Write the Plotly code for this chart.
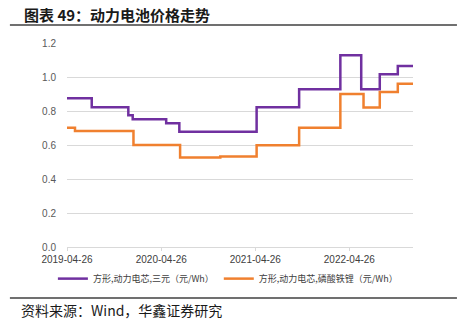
import plotly.graph_objects as go

# Ternary (三元) cell price, change dates and values (元/Wh)
ncm_dates = ["2019-04-26", "2019-07-31", "2019-12-20", "2020-01-06", "2020-05-15",
             "2020-07-05", "2021-05-01", "2021-10-13", "2022-03-22", "2022-06-11",
             "2022-08-22", "2022-10-31", "2022-12-29"]
ncm_values = [0.875, 0.822, 0.775, 0.751, 0.728, 0.678, 0.822, 0.928, 1.128, 0.928,
              1.016, 1.065, 1.065]

# LFP (磷酸铁锂) cell price
lfp_dates = ["2019-04-26", "2019-05-27", "2020-01-09", "2020-07-08", "2020-12-11",
             "2021-05-01", "2021-10-13", "2022-03-22", "2022-06-20", "2022-08-22",
             "2022-10-31", "2022-12-29"]
lfp_values = [0.702, 0.682, 0.600, 0.527, 0.533, 0.598, 0.702, 0.900, 0.820, 0.912,
              0.960, 0.960]

x_ticks = ["2019-04-26", "2020-04-26", "2021-04-26", "2022-04-26"]
y_ticks = [0.0, 0.2, 0.4, 0.6, 0.8, 1.0, 1.2]

ncm_name = "方形,动力电芯,三元（元/Wh）"
lfp_name = "方形,动力电芯,磷酸铁锂（元/Wh）"

fig = go.Figure()
fig.add_trace(go.Scatter(x=ncm_dates, y=ncm_values, mode="lines", line_shape="hv",
                         name=ncm_name, line=dict(color="#7030A0", width=2.5)))
fig.add_trace(go.Scatter(x=lfp_dates, y=lfp_values, mode="lines", line_shape="hv",
                         name=lfp_name, line=dict(color="#F0802F", width=2.5)))

fig.update_layout(
    width=457, height=323,
    margin=dict(l=67, r=44, t=43, b=76),
    paper_bgcolor="white", plot_bgcolor="white",
    font=dict(family="Noto Sans CJK SC, Liberation Sans, sans-serif", color="#595959", size=9),
    showlegend=True,
    legend=dict(orientation="h", x=0.465, xanchor="center", y=-0.155, yanchor="middle",
                font=dict(size=9, color="#404040"), itemwidth=30, tracegroupgap=0),
    xaxis=dict(type="date", range=["2019-04-26", "2022-12-29"],
               tickvals=x_ticks, ticktext=x_ticks, showgrid=False,
               showline=True, linecolor="#D9D9D9", ticks="outside", ticklen=3,
               tickcolor="#D9D9D9", tickfont=dict(family="Liberation Sans, Arial", size=10, color="#404040")),
    yaxis=dict(range=[0, 1.2], tickvals=y_ticks, ticktext=["0.0", "0.2", "0.4", "0.6", "0.8", "1.0", "1.2"],
               showgrid=True, gridcolor="#D9D9D9", gridwidth=1, zeroline=False,
               ticks="", ticklabelstandoff=10,
               tickfont=dict(family="Liberation Sans, Arial", size=10, color="#595959")),
)

fig.add_annotation(text="<b>图表 49：动力电池价格走势</b>", xref="paper", yref="paper",
                   x=-0.13, y=1.142, xanchor="left", yanchor="middle", showarrow=False,
                   font=dict(size=15, color="#1a1a1a", family="Noto Sans CJK SC"))
fig.add_annotation(text="资料来源：Wind，华鑫证券研究", xref="paper", yref="paper",
                   x=-0.14, y=-0.31, xanchor="left", yanchor="middle", showarrow=False,
                   font=dict(size=14, color="#1a1a1a", family="Noto Sans CJK SC"))
fig.add_shape(type="line", xref="paper", yref="paper", x0=-0.165, x1=1.127, y0=1.088, y1=1.088,
              line=dict(color="#404040", width=1.5))
fig.add_shape(type="line", xref="paper", yref="paper", x0=-0.165, x1=1.127, y0=-0.25, y1=-0.25,
              line=dict(color="#404040", width=1.5))

fig.write_html("out.html")
